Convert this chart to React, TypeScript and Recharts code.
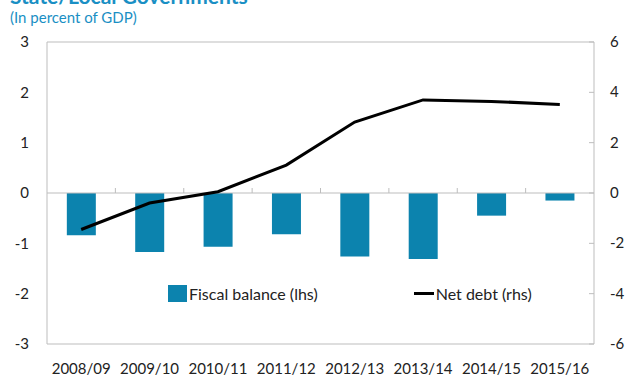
import * as React from "react"
import { ComposedChart, Bar, Line, XAxis, YAxis, ReferenceLine } from "recharts"

const years = ["2008/09", "2009/10", "2010/11", "2011/12", "2012/13", "2013/14", "2014/15", "2015/16"]
const fiscalBalance = [-0.84, -1.17, -1.07, -0.82, -1.26, -1.31, -0.45, -0.15]
const netDebt = [-1.45, -0.4, 0.05, 1.11, 2.82, 3.7, 3.64, 3.52]
const leftTicks = [-3, -2, -1, 0, 1, 2, 3]
const rightTicks = [-6, -4, -2, 0, 2, 4, 6]

const data = years.map((year, i) => ({ year, fiscal: fiscalBalance[i], debt: netDebt[i] }))

const W = 629
const H = 377
const M = { top: 42, right: 0, bottom: 0, left: 0 }
const LEFT_W = 47
const RIGHT_W = 35
const X_H = 33
const plotW = W - LEFT_W - RIGHT_W
const plotH = H - M.top - X_H
const zeroY = M.top + plotH / 2

const FONT = "Lato, 'Open Sans', sans-serif"
const TEAL = "#0c83ae"
const TITLE = "#1a8fc4"
const GRID = "#bdbdbd"
const TEXT = "#222"

const XTick = (props: any) => {
  const { x, y, payload, index } = props
  const band = plotW / years.length
  return (
    <g>
      {index > 0 && <line x1={x - band / 2} x2={x - band / 2} y1={zeroY - 5} y2={zeroY} stroke={GRID} />}
      <text x={x} y={y + 22} textAnchor="middle" fill={TEXT} fontSize={15} fontFamily={FONT}>
        {payload.value}
      </text>
    </g>
  )
}

const RightTick = (props: any) => {
  const { y, payload } = props
  const ax = W - RIGHT_W
  return (
    <g>
      <line x1={ax - 5} x2={ax} y1={y} y2={y} stroke={GRID} />
      <text x={ax + 16} y={y + 5} textAnchor="start" fill={TEXT} fontSize={15} fontFamily={FONT}>
        {payload.value}
      </text>
    </g>
  )
}

// legend sits inside the plot, so it is drawn as an overlay
const LegendBox = () => (
  <div
    style={{
      position: "absolute", left: 168, top: 284, display: "flex", alignItems: "center",
      fontFamily: FONT, fontSize: 16, color: TEXT, whiteSpace: "nowrap",
    }}
  >
    <span style={{ display: "inline-block", width: 19, height: 17, background: TEAL, marginRight: 2 }} />
    <span style={{ marginRight: 96 }}>Fiscal balance (lhs)</span>
    <span style={{ display: "inline-block", width: 20, height: 3, background: "#000", marginRight: 2 }} />
    <span>Net debt (rhs)</span>
  </div>
)

export default function App() {
  return (
    <div style={{ position: "fixed", left: 0, top: 0, width: W, height: H, background: "#fff", overflow: "hidden" }}>
      <div
        style={{ position: "absolute", left: 10, top: -17, fontFamily: FONT, fontSize: 21, fontWeight: 700, color: TITLE, whiteSpace: "nowrap" }}
      >
        State/Local Governments
      </div>
      <div style={{ position: "absolute", left: 10, top: 8, fontFamily: FONT, fontSize: 15, color: TITLE }}>
        (In percent of GDP)
      </div>
      <ComposedChart width={W} height={H} data={data} margin={M} barCategoryGap="29%">
        <XAxis dataKey="year" height={X_H} axisLine={false} tickLine={false} tick={<XTick />} interval={0} />
        <YAxis
          yAxisId="left"
          width={LEFT_W}
          domain={[-3, 3]}
          ticks={leftTicks}
          tickLine={false}
          axisLine={{ stroke: GRID }}
          tick={{ fill: TEXT, fontSize: 15, fontFamily: FONT }}
          tickMargin={12}
        />
        <YAxis
          yAxisId="right"
          orientation="right"
          width={RIGHT_W}
          domain={[-6, 6]}
          ticks={rightTicks}
          tickLine={false}
          axisLine={{ stroke: GRID }}
          tick={<RightTick />}
        />
        <ReferenceLine yAxisId="left" y={3} stroke={GRID} />
        <ReferenceLine yAxisId="left" y={-3} stroke={GRID} />
        <ReferenceLine yAxisId="left" y={0} stroke={GRID} />
        <Bar yAxisId="left" dataKey="fiscal" fill={TEAL} isAnimationActive={false} />
        <Line
          yAxisId="right"
          dataKey="debt"
          stroke="#000"
          strokeWidth={3}
          dot={false}
          isAnimationActive={false}
        />
      </ComposedChart>
      <LegendBox />
    </div>
  )
}
